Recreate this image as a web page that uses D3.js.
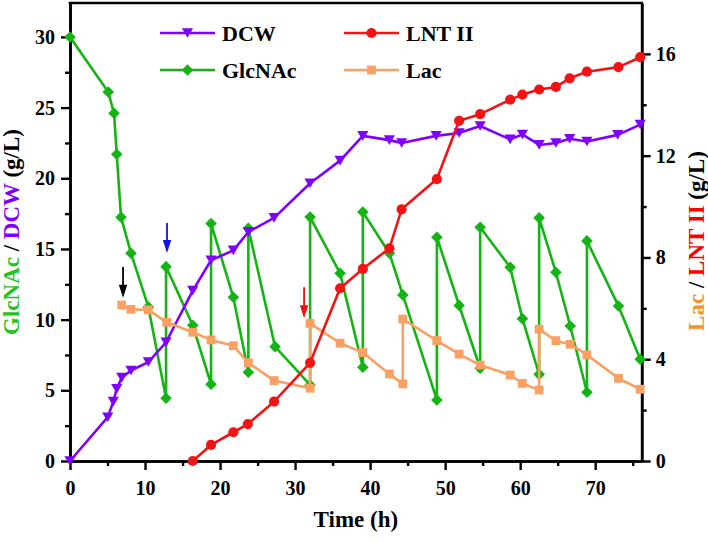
<!DOCTYPE html>
<html><head><meta charset="utf-8">
<script src="https://cdn.jsdelivr.net/npm/d3@7"></script>
<style>
body{margin:0;background:#fff}
text{font-family:"Liberation Serif","Times New Roman",serif;font-weight:bold}
</style>
</head><body>
<svg id="c" width="708" height="542"></svg>
<script>
// ---------- data ----------
const glcTime   = [0, 5.1, 5.87, 6.23, 6.8, 8.13, 10.44, 12.8, 12.8, 16.36, 18.8, 18.8, 21.77, 23.77, 23.77, 27.33, 32.0, 32.0, 36.0, 39.03, 39.03, 42.57, 44.36, 48.9, 48.9, 51.87, 54.67, 54.67, 58.67, 60.3, 62.53, 62.53, 64.76, 66.67, 68.9, 68.9, 73.1, 76.0];
const glcValues = [30.0, 26.1, 24.6, 21.7, 17.25, 14.7, 10.9, 4.44, 13.75, 9.6, 5.43, 16.8, 11.58, 6.28, 16.47, 8.09, 5.38, 17.26, 13.28, 6.63, 17.62, 14.7, 11.75, 4.32, 15.83, 11.0, 6.56, 16.54, 13.7, 10.07, 6.13, 17.2, 13.35, 9.55, 4.86, 15.57, 10.97, 7.2];

const dcwTime   = [0, 5.03, 5.77, 6.23, 6.9, 8.13, 10.44, 12.8, 16.36, 18.8, 21.77, 23.77, 27.2, 32.0, 36.0, 39.03, 42.57, 44.2, 48.8, 51.87, 54.67, 58.67, 60.3, 62.53, 64.76, 66.6, 68.9, 73.0, 76.0];
const dcwValues = [0, 3.1, 4.2, 5.1, 5.9, 6.4, 7.0, 8.4, 12.05, 14.2, 14.9, 16.2, 17.2, 19.65, 21.25, 23.0, 22.7, 22.5, 23.0, 23.2, 23.7, 22.75, 23.1, 22.36, 22.5, 22.8, 22.6, 23.07, 23.8];

const lntTime   = [16.36, 18.8, 21.77, 23.7, 27.2, 32.0, 36.0, 39.03, 42.57, 44.2, 48.9, 51.87, 54.67, 58.67, 60.3, 62.53, 64.76, 66.6, 68.9, 73.1, 76.0];
const lntValues = [0, 0.63, 1.13, 1.45, 2.33, 3.86, 6.79, 7.55, 8.36, 9.89, 11.08, 13.37, 13.63, 14.2, 14.4, 14.6, 14.7, 15.04, 15.3, 15.48, 15.87];

const lacTime   = [6.9, 8.13, 10.44, 12.9, 16.36, 18.8, 21.77, 23.77, 27.2, 32.0, 32.0, 36.0, 39.03, 42.57, 44.36, 44.36, 48.9, 51.87, 54.67, 58.67, 60.3, 62.53, 62.53, 64.76, 66.67, 68.9, 73.1, 76.0];
const lacValues = [6.13, 5.96, 5.94, 5.45, 5.06, 4.76, 4.53, 3.86, 3.16, 2.86, 5.41, 4.63, 4.26, 3.42, 3.03, 5.58, 4.73, 4.2, 3.77, 3.38, 3.05, 2.79, 5.18, 4.73, 4.59, 4.17, 3.25, 2.82];

const xTicks  = [0, 10, 20, 30, 40, 50, 60, 70];
const xMinor  = [5, 15, 25, 35, 45, 55, 65, 75];
const yLTicks = [0, 5, 10, 15, 20, 25, 30];
const yLMinor = [2.5, 7.5, 12.5, 17.5, 22.5, 27.5];
const yRTicks = [0, 4, 8, 12, 16];
const yRMinor = [2, 6, 10, 14];

// feeding arrows (time, from, to on left axis)
const arrowTime = [7.07, 12.93, 31.2];
const arrowFrom = [13.73, 16.84, 12.3];
const arrowTo   = [11.54, 14.72, 10.1];
const arrowColor = ["#000000", "#1010ee", "#ee1111"];

// ---------- layout ----------
const C = {glc:"#14b414", dcw:"#8000ff", lnt:"#f21414", lac:"#f9a062"};
const L = 70, R = 641.7, T = 3, B = 461;
const svg = d3.select("#c");
const x  = d3.scaleLinear().domain([0, 76.2]).range([L, R]);
const yL = d3.scaleLinear().domain([0, 32.4]).range([B, T]);
const yR = d3.scaleLinear().domain([0, 18]).range([B, T]);

function styleAxis(g){
  g.selectAll("path.domain").attr("stroke","#000").attr("stroke-width",2.6);
  g.selectAll(".tick line").attr("stroke","#000").attr("stroke-width",2.4);
  g.selectAll("text").attr("font-size",20).attr("fill","#000")
    .attr("font-family",'"Liberation Serif","Times New Roman",serif').attr("font-weight","bold");
}
// bottom
svg.append("g").attr("transform",`translate(0,${B})`)
  .call(d3.axisBottom(x).tickValues(xMinor).tickSize(5).tickSizeOuter(0).tickFormat(""))
  .call(styleAxis);
svg.append("g").attr("transform",`translate(0,${B})`)
  .call(d3.axisBottom(x).tickValues(xTicks).tickSize(9).tickPadding(11).tickSizeOuter(0).tickFormat(d3.format("d")))
  .call(styleAxis);
// left
svg.append("g").attr("transform",`translate(${L},0)`)
  .call(d3.axisLeft(yL).tickValues(yLMinor).tickSize(5).tickSizeOuter(0).tickFormat(""))
  .call(styleAxis);
svg.append("g").attr("transform",`translate(${L},0)`)
  .call(d3.axisLeft(yL).tickValues(yLTicks).tickSize(9).tickPadding(6).tickSizeOuter(0).tickFormat(d3.format("d")))
  .call(styleAxis);
// right
svg.append("g").attr("transform",`translate(${R},0)`)
  .call(d3.axisRight(yR).tickValues(yRMinor).tickSize(5).tickSizeOuter(0).tickFormat(""))
  .call(styleAxis);
svg.append("g").attr("transform",`translate(${R},0)`)
  .call(d3.axisRight(yR).tickValues(yRTicks).tickSize(9).tickPadding(5).tickSizeOuter(0).tickFormat(d3.format("d")))
  .call(styleAxis);
// top border
svg.append("line").attr("x1",L-1.3).attr("x2",R+1.3).attr("y1",T).attr("y2",T)
  .attr("stroke","#000").attr("stroke-width",2.6);

// ---------- series ----------
const diamond = "M0,-5.8L5.8,0L0,5.8L-5.8,0Z";
const triDown = "M-5.6,-4.8L5.6,-4.8L0,4.8Z";
const square  = "M-4.4,-4.4L4.4,-4.4L4.4,4.4L-4.4,4.4Z";
const circle  = d3.symbol(d3.symbolCircle, Math.PI*5.1*5.1)();

function series(times, vals, ys, color, shape){
  const pts = times.map((t,i)=>[x(t), ys(vals[i])]);
  const g = svg.append("g");
  g.append("path").attr("d", d3.line()(pts)).attr("fill","none")
    .attr("stroke",color).attr("stroke-width",2.6).attr("stroke-linejoin","round");
  g.selectAll("path.m").data(pts).join("path").attr("class","m")
    .attr("d",shape).attr("transform",d=>`translate(${d[0]},${d[1]})`).attr("fill",color);
}
series(glcTime, glcValues, yL, C.glc, diamond);
series(dcwTime, dcwValues, yL, C.dcw, triDown);
series(lacTime, lacValues, yR, C.lac, square);
series(lntTime, lntValues, yR, C.lnt, circle);

// ---------- arrows ----------
arrowTime.forEach((t,i)=>{
  const ax = x(t), y1 = yL(arrowFrom[i]), y2 = yL(arrowTo[i]);
  svg.append("line").attr("x1",ax).attr("x2",ax).attr("y1",y1).attr("y2",y2-10)
    .attr("stroke",arrowColor[i]).attr("stroke-width",1.8);
  svg.append("path").attr("d",`M${ax-4.2},${y2-13}L${ax+4.2},${y2-13}L${ax},${y2}Z`).attr("fill",arrowColor[i]);
});

// ---------- legend ----------
const legItems = [
  {name:"DCW",    color:C.dcw, shape:triDown, lx:160, ly:33},
  {name:"LNT II", color:C.lnt, shape:circle,  lx:344, ly:33},
  {name:"GlcNAc", color:C.glc, shape:diamond, lx:160, ly:70},
  {name:"Lac",    color:C.lac, shape:square,  lx:344, ly:70}
];
legItems.forEach(d=>{
  svg.append("line").attr("x1",d.lx).attr("x2",d.lx+55).attr("y1",d.ly).attr("y2",d.ly)
    .attr("stroke",d.color).attr("stroke-width",2.6);
  svg.append("path").attr("d",d.shape).attr("transform",`translate(${d.lx+27.5},${d.ly})`).attr("fill",d.color);
  svg.append("text").attr("x",d.lx+62).attr("y",d.ly+8).attr("font-size",22).attr("fill","#000").text(d.name);
});

// ---------- axis titles ----------
svg.append("text").attr("x",(L+R)/2).attr("y",527).attr("text-anchor","middle")
  .attr("font-size",23).attr("fill","#000").text("Time (h)");

const lt = svg.append("text").attr("transform","translate(19,232) rotate(-90)")
  .attr("text-anchor","middle").attr("font-size",23);
lt.append("tspan").attr("fill","#1fc41f").text("GlcNAc");
lt.append("tspan").attr("fill","#000").text(" / ");
lt.append("tspan").attr("fill",C.dcw).text("DCW");
lt.append("tspan").attr("fill","#000").text(" (g/L)");

const rt = svg.append("text").attr("transform","translate(704,241) rotate(-90)")
  .attr("text-anchor","middle").attr("font-size",23);
rt.append("tspan").attr("fill","#f5912a").text("Lac");
rt.append("tspan").attr("fill","#000").text(" / ");
rt.append("tspan").attr("fill","#ff0000").text("LNT II");
rt.append("tspan").attr("fill","#000").text(" (g/L)");
</script>
</body></html>
